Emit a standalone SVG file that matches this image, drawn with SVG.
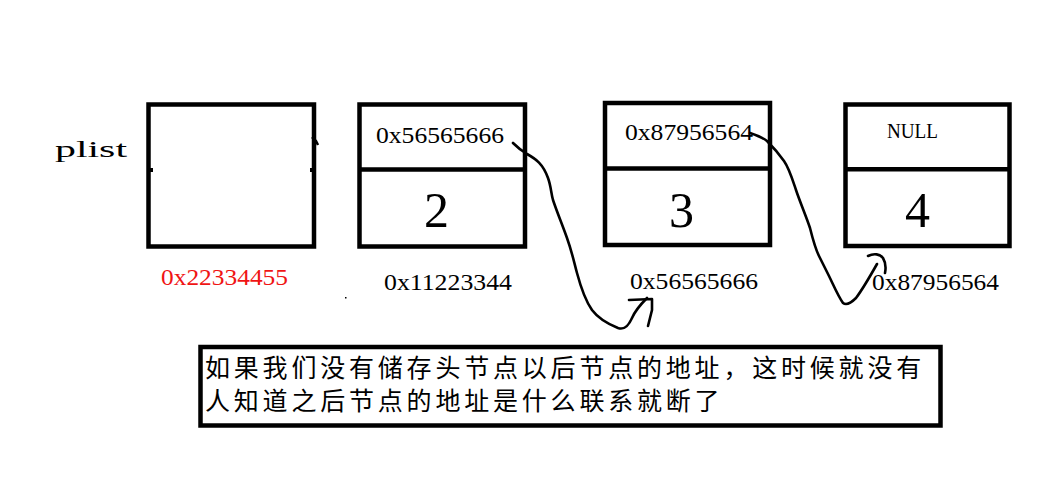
<svg xmlns="http://www.w3.org/2000/svg" width="1057" height="481" viewBox="0 0 1057 481">
<style>
.box{fill:none;stroke:#000;stroke-width:4.5}
.div{stroke:#000;stroke-width:4.5}
.t{font-family:"Liberation Serif",serif;fill:#000}
.addr{font-size:23px}
.num{font-size:50px;text-anchor:middle}
.wire{fill:none;stroke:#000;stroke-width:2.6;stroke-linecap:round;stroke-linejoin:round}
.cn{font-family:"Noto Sans CJK SC",sans-serif;font-size:25px;fill:#000;letter-spacing:3.8px}
</style>
<rect width="1057" height="481" fill="#fff"/>
<g id="plist-label">
<text class="t" x="55" y="157" font-size="23" textLength="72" lengthAdjust="spacingAndGlyphs">plist</text>
</g>
<g id="node-head">
<rect class="box" x="148.5" y="104.5" width="165.5" height="142"/>
<rect x="149" y="168" width="4" height="4" fill="#000"/>
<rect x="310" y="168" width="4" height="4" fill="#000"/>
<path d="M312 137 L316 141 L318 145" fill="none" stroke="#000" stroke-width="2.5"/>
<text class="t addr" x="161" y="285" style="fill:#f01414" textLength="127" lengthAdjust="spacingAndGlyphs">0x22334455</text>
</g>
<g id="node-2">
<rect class="box" x="359.5" y="104.5" width="165.5" height="142"/>
<line class="div" x1="359.5" y1="169.5" x2="525" y2="169.5"/>
<text class="t addr" x="376" y="143" textLength="128" lengthAdjust="spacingAndGlyphs">0x56565666</text>
<text class="t num" x="436.5" y="227">2</text>
<text class="t addr" x="384" y="290" textLength="128" lengthAdjust="spacingAndGlyphs">0x11223344</text>
</g>
<g id="node-3">
<rect class="box" x="605" y="103" width="165" height="142"/>
<line class="div" x1="605" y1="168.5" x2="770" y2="168.5"/>
<text class="t addr" x="625" y="140" textLength="128" lengthAdjust="spacingAndGlyphs">0x87956564</text>
<text class="t num" x="681.5" y="227">3</text>
<text class="t addr" x="630" y="289" textLength="128" lengthAdjust="spacingAndGlyphs">0x56565666</text>
</g>
<g id="node-4">
<rect class="box" x="845.5" y="104.5" width="164" height="141.5"/>
<line class="div" x1="845.5" y1="169.3" x2="1009.5" y2="169.3"/>
<text class="t" x="887" y="138" font-size="21" textLength="51" lengthAdjust="spacingAndGlyphs">NULL</text>
<text class="t num" x="917.5" y="227">4</text>
<text class="t addr" x="872" y="290" textLength="127" lengthAdjust="spacingAndGlyphs">0x87956564</text>
</g>
<g id="connectors">
<path class="wire" d="M513 143 C518 148 522 151 527 154 C536 159 543 164 548 178 C551 186 551 193 553 200 C557 212 562 224 567 238 C572 252 574 262 577 273 C581 288 585 300 592 310 C598 318 608 324 618 328 C624 330 628 327 632 318 C635 311 640 305 647 298"/>
<path class="wire" d="M629 300 L652 299 L652 310 L648 326"/>
<path class="wire" d="M750 133 C756 135 762 137 767 141 C773 147 779 154 784 161 C789 168 792 178 796 190 C800 202 806 216 810 228 C813 240 815 248 819 256 C823 264 826 270 829 276 C833 284 838 296 843 303 C847 306 852 302 856 298 C862 290 868 280 877 264"/>
<path class="wire" d="M868 256 C874 253 880 254 883 258 C886 263 886 268 885 273"/>
</g>
<g id="note">
<rect x="200.5" y="347" width="740" height="78.5" fill="none" stroke="#000" stroke-width="4.5"/>
<text class="cn" x="205" y="377">如果我们没有储存头节点以后节点的地址，这时候就没有</text>
<text class="cn" x="205" y="410">人知道之后节点的地址是什么联系就断了</text>
</g>
<rect x="345" y="297" width="1.5" height="1.5" fill="#000"/>
</svg>
